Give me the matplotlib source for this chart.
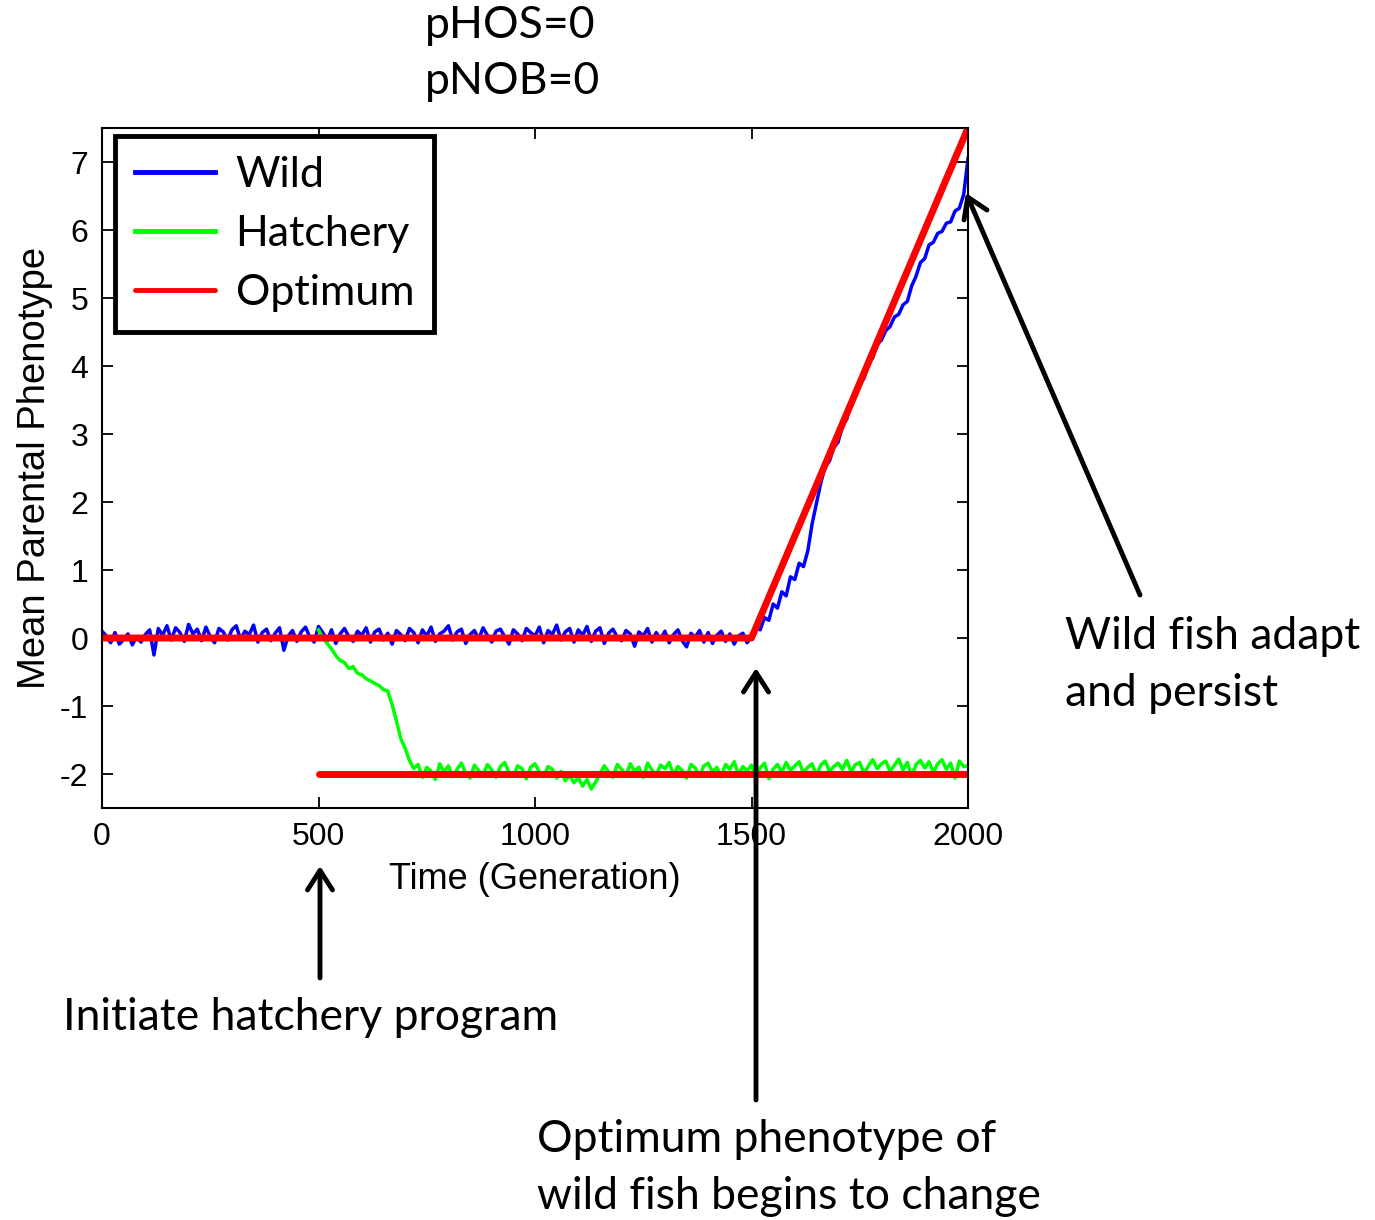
import numpy as np
import matplotlib.pyplot as plt
from matplotlib.patches import FancyArrowPatch

plt.rcParams['axes.unicode_minus'] = False

# data (every 10 generations)
gen_wild = np.arange(0, 2001, 10)
wild = [
    0.10, 0.03, -0.07, 0.08, -0.09, -0.02, 0.06, -0.10, 0.02, -0.06,
    0.05, 0.12, -0.25, 0.14, 0.04, 0.18, -0.03, 0.15, 0.08, -0.05,
    0.20, 0.06, 0.13, -0.04, 0.16, 0.02, -0.07, 0.14, 0.09, -0.03,
    0.12, 0.18, -0.02, 0.10, 0.05, 0.19, -0.06, 0.08, 0.13, -0.04,
    0.07, 0.15, -0.18, 0.03, 0.11, -0.05, 0.09, 0.16, 0.01, -0.06,
    0.17, 0.08, -0.04, 0.12, -0.08, 0.06, 0.14, 0.02, -0.05, 0.10,
    0.04, 0.15, -0.06, 0.09, 0.13, -0.03, 0.07, -0.09, 0.11, 0.05,
    -0.04, 0.14, 0.08, -0.07, 0.12, 0.03, 0.16, -0.05, 0.06, 0.10,
    0.18, -0.03, 0.09, 0.13, -0.08, 0.05, 0.11, -0.02, 0.15, 0.04,
    -0.06, 0.10, 0.13, 0.02, -0.09, 0.12, 0.06, -0.04, 0.14, 0.08,
    0.03, 0.16, -0.07, 0.11, 0.05, 0.19, -0.03, 0.09, 0.14, -0.06,
    0.12, 0.04, 0.17, -0.05, 0.10, 0.15, -0.08, 0.07, 0.13, 0.01,
    -0.04, 0.11, 0.06, -0.12, 0.09, 0.03, 0.14, -0.06, 0.08, -0.02,
    0.10, -0.07, 0.05, 0.12, -0.04, -0.13, 0.07, 0.01, 0.11, -0.06,
    0.08, -0.08, 0.04, 0.10, -0.05, 0.06, -0.09, 0.03, 0.07, -0.07,
    0.03, 0.15, 0.12, 0.30, 0.26, 0.50, 0.44, 0.68, 0.62, 0.90,
    0.86, 1.10, 1.05, 1.28, 1.68, 1.98, 2.28, 2.52, 2.60, 2.80,
    2.88, 3.12, 3.22, 3.48, 3.56, 3.74, 3.82, 4.05, 4.12, 4.32,
    4.38, 4.52, 4.58, 4.72, 4.76, 4.90, 4.95, 5.18, 5.32, 5.52,
    5.58, 5.78, 5.82, 5.95, 5.98, 6.10, 6.12, 6.28, 6.32, 6.52,
    7.05,
]

gen_hatch = np.arange(500, 2001, 10)
hatchery = [
    0.12, 0.00, -0.08, -0.16, -0.26, -0.33, -0.36, -0.45, -0.42, -0.52,
    -0.54, -0.60, -0.63, -0.67, -0.70, -0.76, -0.78, -0.98, -1.22, -1.48,
    -1.62, -1.80, -1.92, -1.86, -2.05, -1.90, -1.96, -2.08, -1.85, -1.97,
    -1.88, -2.04, -1.93, -1.84, -1.99, -2.06, -1.87, -1.95, -2.02, -1.86,
    -1.94, -2.05, -1.89, -1.83, -1.98, -2.03, -1.88, -1.92, -2.07, -1.90,
    -1.85, -1.97, -2.04, -1.89, -1.93, -2.06, -1.96, -2.10, -2.02, -2.13,
    -2.05, -2.18, -2.08, -2.22, -2.12, -2.00, -1.88, -1.97, -2.05, -1.86,
    -1.93, -2.03, -1.85, -1.96, -1.90, -2.05, -1.84, -1.94, -2.01, -1.87,
    -1.92, -1.83, -2.02, -1.89, -1.95, -2.06, -1.86, -1.91, -2.03, -1.88,
    -1.84, -1.97, -1.90, -2.04, -1.86, -1.93, -1.82, -2.01, -1.89, -1.95,
    -1.87, -2.03, -1.91, -1.84, -2.07, -1.93, -1.86, -1.98, -1.83, -1.95,
    -1.88, -1.82, -1.99, -1.90, -1.85, -2.02, -1.87, -1.81, -1.96, -1.89,
    -1.84, -1.93, -1.80, -1.97, -1.86, -1.83, -2.00, -1.88, -1.79, -1.92,
    -1.85, -1.81, -1.96, -1.87, -1.78, -1.94, -1.83, -2.04, -1.86, -1.80,
    -1.91, -1.82, -1.98, -1.85, -1.79, -1.93, -1.84, -2.06, -1.81, -1.89,
    -1.88,
]

# optimum phenotypes (wild and hatchery)
opt_wild_x = [0, 1500, 2000]
opt_wild_y = [0, 0, 7.5]
opt_hatch_x = [500, 2000]
opt_hatch_y = [-2, -2]

W, H = 1375, 1220
fig = plt.figure(figsize=(W / 100, H / 100), dpi=100)
ax = fig.add_axes([102 / W, 1 - 808 / H, 866 / W, 680 / H])

ax.plot(gen_wild, wild, color="#0000ff", linewidth=2.5, label="Wild")
ax.plot(gen_hatch, hatchery, color="#00ff00", linewidth=2.5, label="Hatchery")
ax.plot(opt_wild_x, opt_wild_y, color="#ff0000", linewidth=5,
        solid_capstyle="round", label="Optimum")
ax.plot(opt_hatch_x, opt_hatch_y, color="#ff0000", linewidth=5,
        solid_capstyle="round")

ax.set_xlim(0, 2000)
ax.set_ylim(-2.5, 7.5)
ax.set_xticks([0, 500, 1000, 1500, 2000])
ax.set_yticks(range(-2, 8))
ax.tick_params(direction="in", top=True, right=True, length=8, width=1.3,
               labelsize=23, pad=10)
for lab in ax.get_xticklabels() + ax.get_yticklabels():
    lab.set_family("Liberation Sans")
for sp in ax.spines.values():
    sp.set_linewidth(1.5)

ax.set_xlabel("Time (Generation)", fontsize=26, family="Liberation Sans",
              labelpad=7)
ax.set_ylabel("Mean Parental Phenotype", fontsize=27.5, family="Liberation Sans",
              labelpad=5)

leg = ax.legend(loc="upper left", bbox_to_anchor=(0.015, 0.988),
                borderaxespad=0, fancybox=False, framealpha=1,
                edgecolor="#000000", prop={"family": "Lato", "size": 31},
                handlelength=1.86, handletextpad=0.47, labelspacing=0.48,
                borderpad=0.47)
leg.get_frame().set_linewidth(3.5)
for line in leg.get_lines():
    line.set_linewidth(3.5)

# annotations
txt = dict(family="Lato", fontsize=32, color="black")
fig.text(425 / W, 1 - 25 / H, "pHOS=0", va="center", ha="left", **txt)
fig.text(425 / W, 1 - 82 / H, "pNOB=0", va="center", ha="left", **txt)
fig.text(1065 / W, 1 - 665 / H, "Wild fish adapt\nand persist", va="center",
         ha="left", linespacing=1.47, **txt)
fig.text(63 / W, 1 - 1017 / H, "Initiate hatchery program", va="center",
         ha="left", **txt)
fig.text(537 / W, 1 - 1168 / H, "Optimum phenotype of\nwild fish begins to change",
         va="center", ha="left", linespacing=1.47, **txt)

arrow = dict(arrowstyle="->,head_length=0.7,head_width=0.45", color="black",
             linewidth=3.5, shrinkA=0, shrinkB=0, mutation_scale=20,
             capstyle="round", joinstyle="round")
for (x0, y0), (x1, y1) in [((320, 978), (320, 866)),
                           ((756, 1100), (756, 668)),
                           ((1140, 595), (966, 193))]:
    fig.add_artist(FancyArrowPatch((x0 / W, 1 - y0 / H), (x1 / W, 1 - y1 / H),
                                   transform=fig.transFigure, **arrow))

fig.savefig("out.png", dpi=100)
